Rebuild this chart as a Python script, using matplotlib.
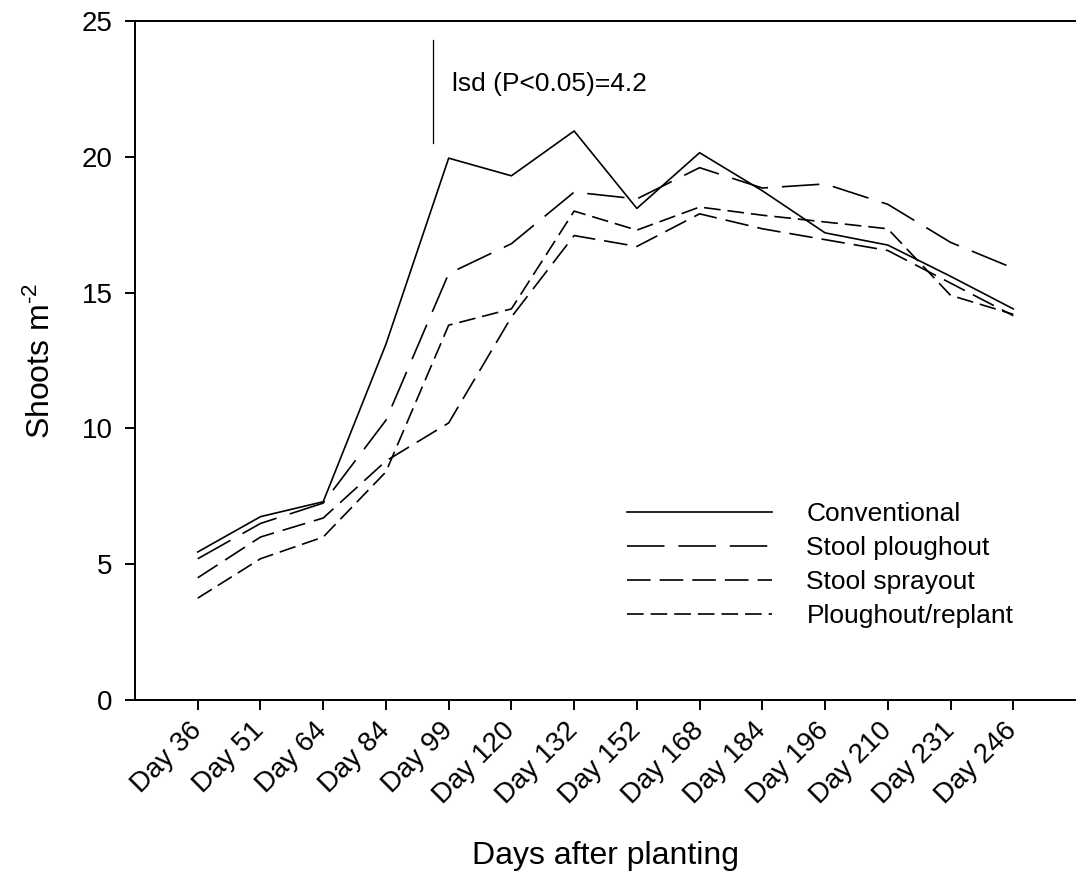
import matplotlib
matplotlib.use("Agg")
import matplotlib.pyplot as plt
import numpy as np

days = ['Day 36', 'Day 51', 'Day 64', 'Day 84', 'Day 99', 'Day 120', 'Day 132',
        'Day 152', 'Day 168', 'Day 184', 'Day 196', 'Day 210', 'Day 231', 'Day 246']
conventional = [5.45, 6.75, 7.3, 13.1, 19.95, 19.3, 20.95, 18.1, 20.15, 18.75, 17.2, 16.75, 15.6, 14.4]
stool_ploughout = [5.2, 6.5, 7.25, 10.3, 15.7, 16.8, 18.7, 18.45, 19.6, 18.85, 19.0, 18.25, 16.85, 15.9]
stool_sprayout = [4.5, 6.0, 6.7, 8.8, 10.2, 14.1, 17.1, 16.7, 17.9, 17.35, 16.95, 16.55, 15.35, 14.15]
ploughout_replant = [3.75, 5.2, 6.0, 8.4, 13.8, 14.4, 18.0, 17.3, 18.15, 17.85, 17.6, 17.35, 14.9, 14.2]
series_names = ['Conventional', 'Stool ploughout', 'Stool sprayout', 'Ploughout/replant']
lsd_value = 4.2
lsd_bar = [20.52, 24.3]

plt.rcParams['font.family'] = ['Liberation Sans', 'DejaVu Sans']
plt.rcParams['lines.scale_dashes'] = False
plt.rcParams['mathtext.fontset'] = 'custom'
plt.rcParams['mathtext.rm'] = 'Liberation Sans'
plt.rcParams['mathtext.it'] = 'Liberation Sans'

fig = plt.figure(figsize=(10.76, 8.72), dpi=100)
ax = fig.add_axes([135/1076, 172/872, 1 - 135/1076, 679/872])

x = np.arange(1, len(days) + 1)
styles = ['-', (0, (27, 10)), (0, (17, 6.5)), (0, (12, 5))]
for vals, name, ls in zip([conventional, stool_ploughout, stool_sprayout, ploughout_replant],
                          series_names, styles):
    ax.plot(x, vals, color='black', lw=1.2, linestyle=ls, label=name)

# lsd bar
ax.plot([4.75, 4.75], lsd_bar, color='black', lw=0.9)
ax.text(5.05, 22.68, f'lsd (P<0.05)={lsd_value}', fontsize=19, va='center', ha='left')

ax.set_xlim(0, 15)
ax.set_ylim(0, 25)
ax.set_yticks([0, 5, 10, 15, 20, 25])
ax.set_xticks(x)
ax.set_xticklabels(days, rotation=45, ha='right', va='center', rotation_mode='anchor')
ax.tick_params(axis='both', direction='out', length=7.2, width=1.4, labelsize=20, pad=9)
ax.tick_params(axis='x', pad=12)
for s in ['left', 'bottom', 'top']:
    ax.spines[s].set_linewidth(1.4)
ax.spines['right'].set_visible(False)

ax.set_xlabel('Days after planting', fontsize=23, labelpad=23)
ax.set_ylabel(r'Shoots m$^{\text{-2}}$', fontsize=23, labelpad=18)

leg = ax.legend(loc='upper left', bbox_to_anchor=(0.5228, 0.291), frameon=False,
                fontsize=19, handlelength=5.5, handletextpad=1.3, labelspacing=0.38,
                borderpad=0, borderaxespad=0)

fig.savefig('out.png', dpi=100)
